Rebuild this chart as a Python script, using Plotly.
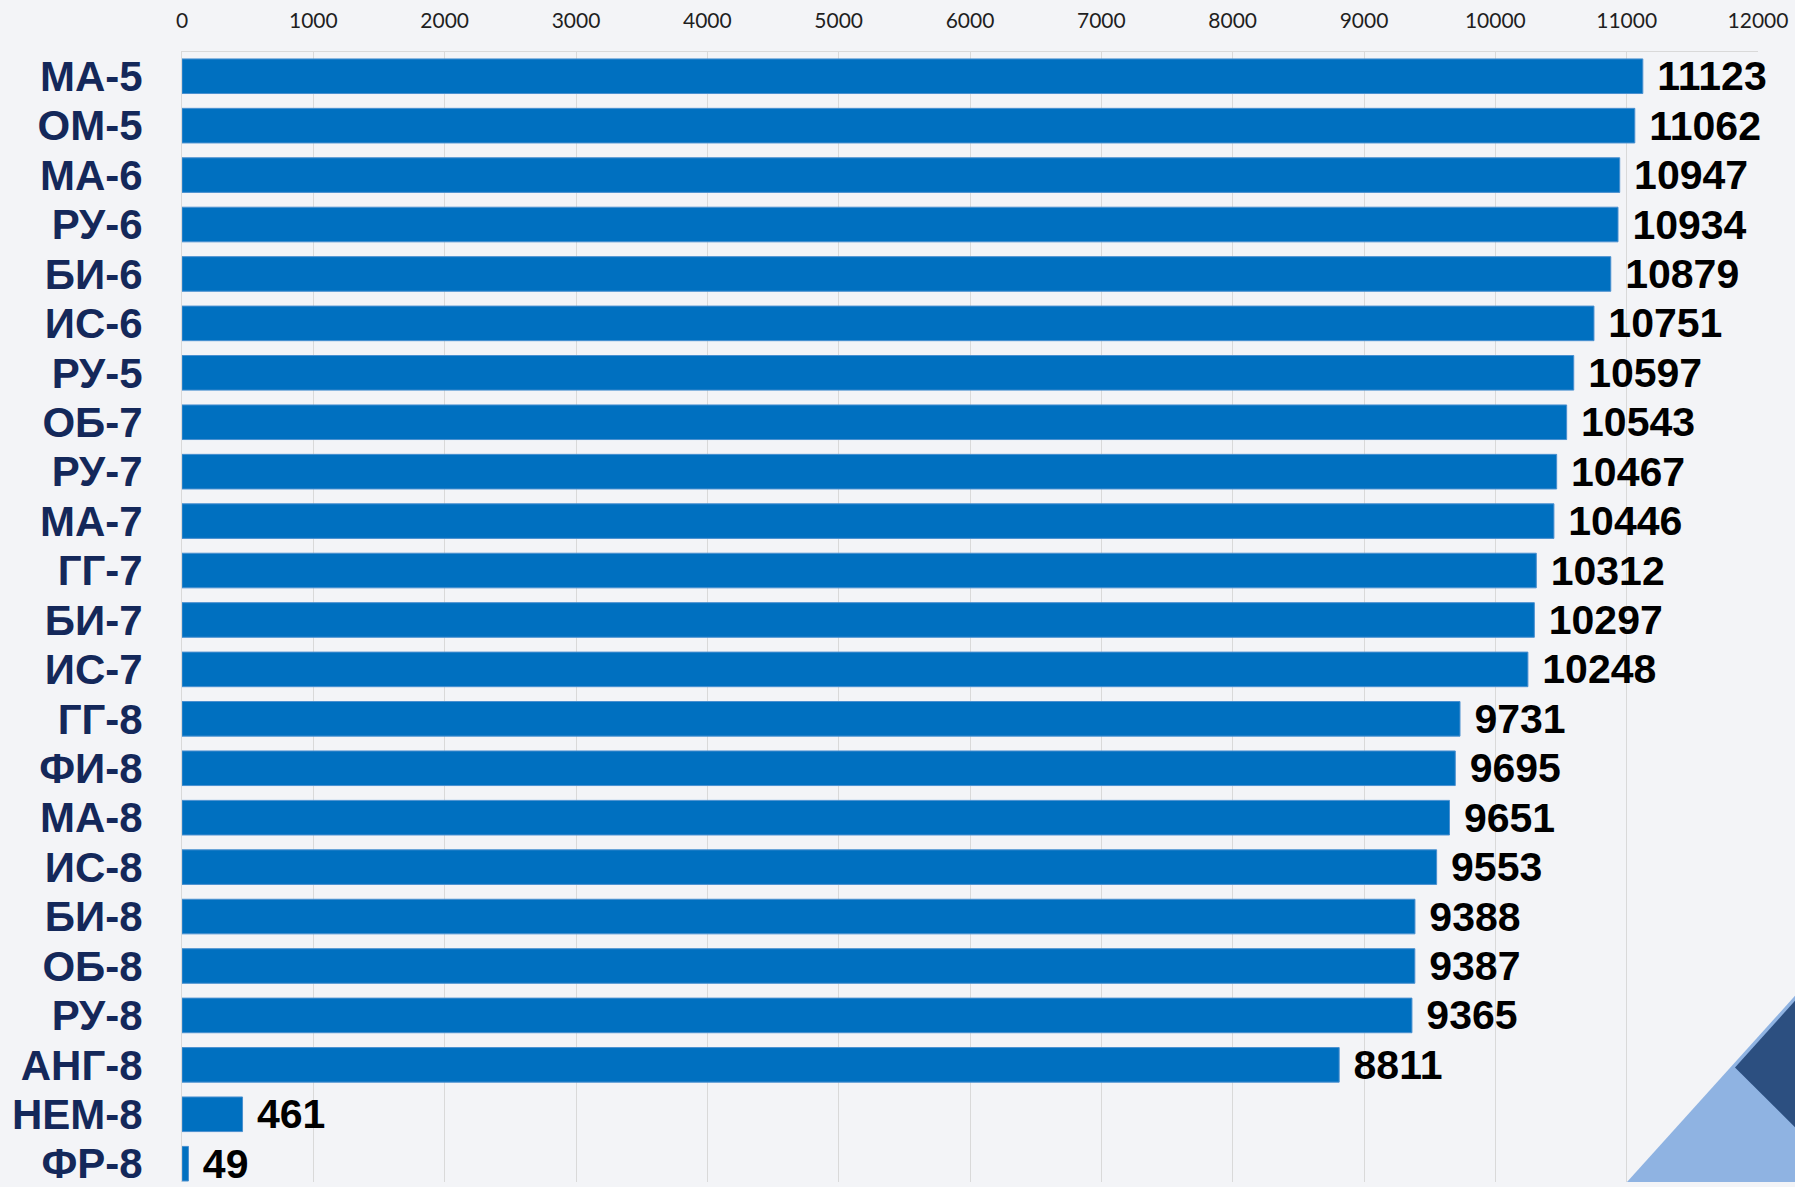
import plotly.graph_objects as go

categories = ["МА-5", "ОМ-5", "МА-6", "РУ-6", "БИ-6", "ИС-6", "РУ-5", "ОБ-7", "РУ-7", "МА-7",
              "ГГ-7", "БИ-7", "ИС-7", "ГГ-8", "ФИ-8", "МА-8", "ИС-8", "БИ-8", "ОБ-8", "РУ-8",
              "АНГ-8", "НЕМ-8", "ФР-8"]
values = [11123, 11062, 10947, 10934, 10879, 10751, 10597, 10543, 10467, 10446,
          10312, 10297, 10248, 9731, 9695, 9651, 9553, 9388, 9387, 9365,
          8811, 461, 49]
x_ticks = list(range(0, 12001, 1000))
x_tick_labels = [str(v) for v in x_ticks]

W, H = 1795, 1187
ML, MR, MT, MB = 182, 37, 52, 0
PW, PH = W - ML - MR, H - MT - MB

def px(x):
    return (x - ML) / PW

def py(y):
    return (H - MB - y) / PH

fig = go.Figure()
fig.add_trace(go.Bar(
    y=categories, x=values, orientation="h",
    marker=dict(color="#0070c0", line=dict(color="#4a90d0", width=1)),
    width=0.70,
    text=[str(v) for v in values], texttemplate="\u00a0%{text}", textposition="outside",
    constraintext="none",
    textfont=dict(family="Liberation Sans", size=41, color="#000000", weight="bold"),
    cliponaxis=False,
    hoverinfo="skip",
))

shapes = [
    dict(type="path", xref="paper", yref="paper", layer="below",
         path=f"M {px(1627)} {py(1187)} L {px(1795)} {py(1000)} L {px(1795)} {py(1187)} Z",
         fillcolor="#8fb3e2", line=dict(width=0)),
    dict(type="path", xref="paper", yref="paper", layer="below",
         path=f"M {px(1735)} {py(1072)} L {px(1795)} {py(1005)} L {px(1795)} {py(1132)} Z",
         fillcolor="#2c4f80", line=dict(width=0)),
]

fig.update_layout(
    width=W, height=H,
    margin=dict(l=ML, r=MR, t=MT, b=MB, pad=0),
    paper_bgcolor="#f3f4f7",
    plot_bgcolor="rgba(0,0,0,0)",
    showlegend=False,
    shapes=shapes,
    xaxis=dict(
        side="top", range=[0, 12000], tickvals=x_ticks, ticktext=x_tick_labels,
        tickfont=dict(family="Lato", size=21, color="#1f1f1f"),
        showgrid=True, gridcolor="#d9d9d9", gridwidth=1,
        zeroline=False, showline=True, linecolor="#d9d9d9", linewidth=1,
        mirror=False, ticks="", ticklabelstandoff=15,
    ),
    yaxis=dict(
        range=[22.37, -0.49], tickvals=categories, ticktext=categories,
        tickfont=dict(family="Liberation Sans", size=42, color="#14285a", weight="bold"),
        showgrid=False, zeroline=False, showline=True, linecolor="#d9d9d9", linewidth=1,
        ticks="", ticklabelstandoff=30,
    ),
)

fig.write_html("out.html", config={"displayModeBar": False},
               post_script="document.body.style.margin='0';document.body.style.overflow='hidden';")
